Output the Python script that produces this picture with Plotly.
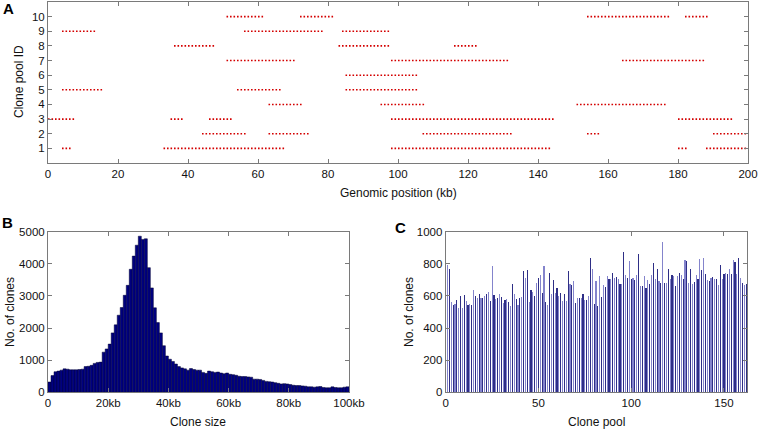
import plotly.graph_objects as go

# ---------------- Panel A data: clone intervals (kb) per pool ID ----------------
seg_rows = [10, 10, 10, 10,
            9, 9, 9,
            8, 8, 8,
            7, 7, 7,
            6,
            5, 5, 5,
            4, 4, 4,
            3, 3, 3, 3, 3,
            2, 2, 2, 2, 2,
            1, 1, 1, 1, 1]
seg_start = [51, 72, 154, 182,
             4, 56, 84,
             36, 83, 116,
             51, 98, 164,
             85,
             4, 54, 85,
             63, 95, 151,
             0, 35, 46, 98, 180,
             44, 63, 107, 154, 190,
             4, 33, 98, 180, 188]
seg_end = [62, 82, 178, 189,
           14, 79, 98,
           48, 98, 123,
           71, 132, 188,
           106,
           16, 67, 106,
           73, 108, 177,
           8, 39, 53, 145, 196,
           57, 75, 133, 158, 200,
           7, 68, 144, 183, 200]
a_xticks = [0, 20, 40, 60, 80, 100, 120, 140, 160, 180, 200]
a_yticks = [1, 2, 3, 4, 5, 6, 7, 8, 9, 10]

# ---------------- Panel B data: clone size histogram (1 kb bins) ----------------
size_bin_start = list(range(0, 100))
size_counts = [320, 520, 640, 660, 690, 730, 720, 700, 700, 700,
               710, 720, 800, 810, 840, 900, 930, 940, 1250, 1350,
               1500, 1850, 2100, 2400, 2640, 3020, 3330, 3830, 4240, 4580,
               4860, 4760, 4780, 3880, 3250, 2630, 2170, 1850, 1450, 1130,
               1030, 960, 880, 800, 760, 730, 690, 740, 710, 690,
               690, 620, 590, 660, 640, 620, 630, 600, 580, 600,
               560, 550, 530, 500, 490, 490, 480, 470, 410, 410,
               400, 370, 340, 330, 320, 300, 280, 260, 270, 260,
               240, 220, 210, 210, 200, 190, 170, 170, 160, 170,
               180, 150, 140, 140, 170, 150, 140, 140, 160, 170]
b_xtickvals = [0, 20, 40, 60, 80, 100]
b_xticktext = ["0", "20kb", "40kb", "60kb", "80kb", "100kb"]

# ---------------- Panel C data: clones per pool ----------------
pool_ids = list(range(1, 163))
pool_counts = [790, 766, 562, 546, 550, 575, 527, 600, 525, 604,
               569, 542, 548, 544, 637, 600, 590, 610, 590, 590,
               600, 610, 625, 569, 786, 604, 579, 590, 610, 596,
               558, 575, 579, 562, 537, 672, 610, 579, 544, 590,
               593, 755, 714, 762, 562, 637, 625, 600, 683, 714,
               730, 620, 786, 562, 544, 741, 610, 699, 616, 652,
               600, 616, 569, 610, 569, 755, 672, 666, 693, 558,
               589, 589, 589, 614, 575, 575, 600, 838, 766, 548,
               693, 538, 724, 596, 667, 656, 724, 703, 703, 745,
               714, 720, 708, 672, 672, 874, 728, 714, 818, 703,
               714, 699, 728, 859, 662, 662, 724, 652, 699, 672,
               728, 808, 703, 770, 693, 683, 936, 679, 683, 770,
               703, 728, 724, 662, 724, 741, 728, 703, 824, 818,
               683, 766, 672, 687, 728, 703, 832, 760, 838, 735,
               700, 693, 714, 720, 703, 703, 666, 790, 703, 735,
               741, 738, 770, 735, 822, 811, 735, 838, 714, 679,
               670, 675]
c_xticks = [0, 50, 100, 150]

W, H = 759, 430


def fx(px):
    return px / W


def fy(py):
    return 1 - py / H


fig = go.Figure()

# Panel A: dotted segments
xs, ys = [], []
for r, s, e in zip(seg_rows, seg_start, seg_end):
    xs += [s, e, None]
    ys += [r, r, None]
fig.add_trace(go.Scatter(x=xs, y=ys, mode="lines", xaxis="x", yaxis="y",
                         line=dict(color="#d40000", width=1.6, dash="1.6px,1.9px"),
                         connectgaps=False, showlegend=False, hoverinfo="skip"))

# Panel B: histogram bars
fig.add_trace(go.Bar(x=[s + 0.5 for s in size_bin_start], y=size_counts, width=1.0,
                     xaxis="x2", yaxis="y2",
                     marker=dict(color="#000080", line=dict(color="#000030", width=0.5)),
                     showlegend=False, hoverinfo="skip"))

# Panel C: bars per pool (thin bars, alternating shade like the aliased original)
c_colors = ["#8484cc" if i % 2 == 0 else "#2e2e86" for i in range(len(pool_ids))]
fig.add_trace(go.Bar(x=pool_ids, y=pool_counts, width=0.62,
                     xaxis="x3", yaxis="y3",
                     marker=dict(color=c_colors, line=dict(width=0)),
                     showlegend=False, hoverinfo="skip"))

tickfont = dict(family="Liberation Sans, Arial, sans-serif", size=11.5, color="#111")
axcommon = dict(showline=True, linecolor="#7a7a7a", linewidth=1, mirror="ticks",
                ticks="inside", ticklen=4, tickcolor="#7a7a7a", tickwidth=1,
                showgrid=False, zeroline=False, tickfont=tickfont, automargin=False)

fig.update_layout(
    template="none",
    width=W, height=H, margin=dict(l=0, r=0, t=0, b=0, autoexpand=False),
    paper_bgcolor="white", plot_bgcolor="white", bargap=0,
    xaxis=dict(domain=[fx(48), fx(748)], range=[0, 200], tickvals=a_xticks,
               anchor="y", **axcommon),
    yaxis=dict(domain=[fy(163), fy(2)], range=[0, 11], tickvals=a_yticks,
               anchor="x", **axcommon),
    xaxis2=dict(domain=[fx(48), fx(349)], range=[0, 100], tickvals=b_xtickvals,
                ticktext=b_xticktext, anchor="y2", **axcommon),
    yaxis2=dict(domain=[fy(392.3), fy(231.7)], range=[0, 5000], dtick=1000,
                anchor="x2", **axcommon),
    xaxis3=dict(domain=[fx(445.7), fx(747.3)], range=[0, 162.6], tickvals=c_xticks,
                anchor="y3", **axcommon),
    yaxis3=dict(domain=[fy(392.3), fy(231.7)], range=[0, 1000], dtick=200,
                anchor="x3", **axcommon),
)

tfont = dict(family="Liberation Sans, Arial, sans-serif", size=12, color="#111")
lfont = dict(family="Liberation Sans, Arial, sans-serif", size=15, color="#000")
ann = [
    dict(text="Clone pool ID", x=fx(19), y=fy(82), textangle=-90, font=tfont),
    dict(text="Genomic position (kb)", x=fx(398), y=fy(193), font=tfont),
    dict(text="No. of clones", x=fx(10), y=fy(312), textangle=-90, font=tfont),
    dict(text="Clone size", x=fx(198), y=fy(422), font=tfont),
    dict(text="No. of clones", x=fx(409), y=fy(312), textangle=-90, font=tfont),
    dict(text="Clone pool", x=fx(596), y=fy(422), font=tfont),
    dict(text="<b>A</b>", x=fx(8), y=fy(9), font=lfont),
    dict(text="<b>B</b>", x=fx(7), y=fy(222), font=lfont),
    dict(text="<b>C</b>", x=fx(400), y=fy(227), font=lfont),
]
for a in ann:
    a.update(xref="paper", yref="paper", showarrow=False,
             xanchor="center", yanchor="middle")
fig.update_layout(annotations=ann)

fig.write_html(
    "out.html",
    config={"displayModeBar": False, "staticPlot": True},
    post_script="document.body.style.margin='0';document.body.style.padding='0';"
                "document.body.style.overflow='hidden';",
)
